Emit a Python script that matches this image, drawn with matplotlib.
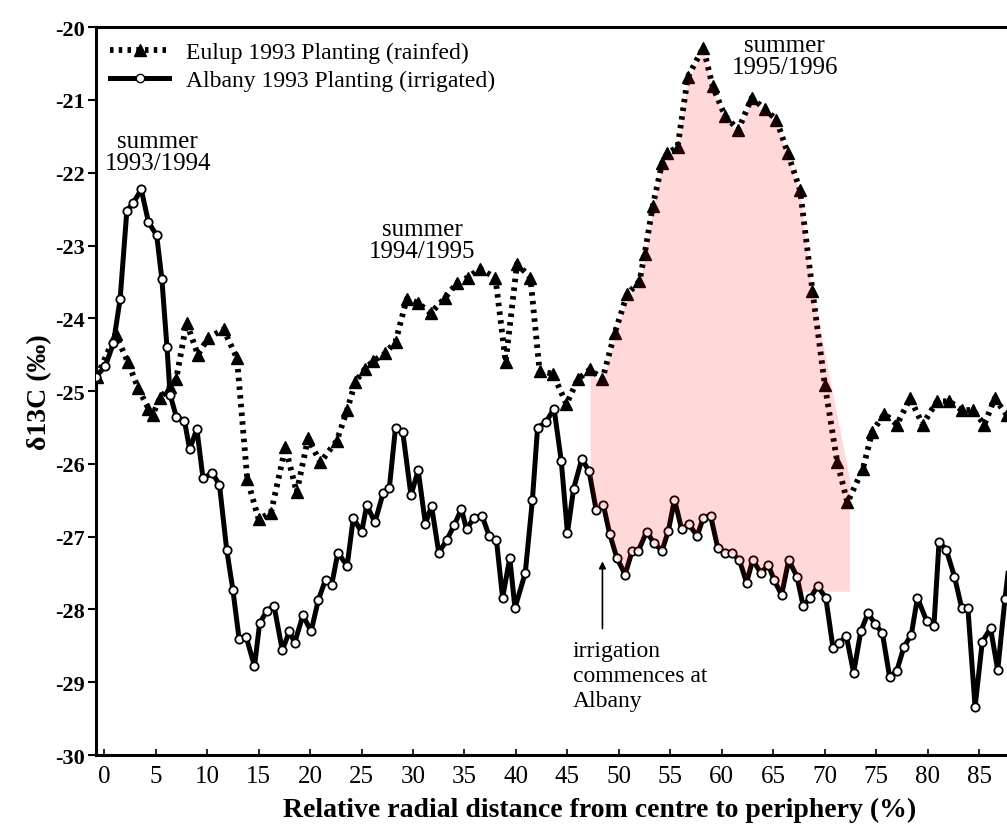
import numpy as np
import matplotlib
matplotlib.use("Agg")
import matplotlib.pyplot as plt
from matplotlib.lines import Line2D

# Albany 1993 planting (irrigated) - solid line, open circles
albany_x = [-0.8, 0.1, 0.9, 1.55, 2.2, 2.8, 3.6, 4.3, 5.1, 5.6, 6.1, 6.4, 7.0, 7.8, 8.3,
            9.0, 9.6, 10.5, 11.2, 11.9, 12.5, 13.1, 13.8, 14.6, 15.1, 15.8, 16.5, 17.3,
            18.0, 18.5, 19.3, 20.1, 20.8, 21.5, 22.1, 22.7, 23.6, 24.2, 25.0, 25.5, 26.3,
            27.1, 27.7, 28.3, 29.0, 29.8, 30.5, 31.2, 31.8, 32.5, 33.3, 34.0, 34.7, 35.2,
            35.9, 36.7, 37.4, 38.1, 38.7, 39.4, 39.9, 40.9, 41.6, 42.1, 42.9, 43.7, 44.4,
            45.0, 45.6, 46.4, 47.1, 47.8, 48.5, 49.1, 49.8, 50.6, 51.3, 51.9, 52.7, 53.4,
            54.2, 54.8, 55.4, 56.1, 56.8, 57.6, 58.2, 58.9, 59.6, 60.3, 61.0, 61.7, 62.4,
            63.0, 63.8, 64.5, 65.1, 65.8, 66.5, 67.3, 67.9, 68.6, 69.3, 70.1, 70.8, 71.4,
            72.1, 72.8, 73.5, 74.2, 74.9, 75.6, 76.3, 77.0, 77.7, 78.4, 79.0, 79.9, 80.6,
            81.1, 81.8, 82.6, 83.3, 83.9, 84.6, 85.3, 86.1, 86.8, 87.5, 88.3]
albany_y = [-24.8, -24.66, -24.34, -23.73, -22.52, -22.42, -22.23, -22.68, -22.86, -23.46,
            -24.4, -25.05, -25.35, -25.41, -25.8, -25.52, -26.2, -26.12, -26.29, -27.18,
            -27.73, -28.4, -28.38, -28.78, -28.19, -28.02, -27.95, -28.56, -28.3, -28.46,
            -28.08, -28.3, -27.87, -27.59, -27.66, -27.22, -27.4, -26.74, -26.94, -26.57,
            -26.8, -26.4, -26.33, -25.5, -25.56, -26.43, -26.09, -26.82, -26.58, -27.22,
            -27.04, -26.84, -26.62, -26.9, -26.74, -26.71, -26.99, -27.04, -27.84, -27.29,
            -27.98, -27.5, -26.49, -25.5, -25.43, -25.24, -25.96, -26.95, -26.34, -25.93,
            -26.1, -26.64, -26.57, -26.96, -27.29, -27.52, -27.19, -27.19, -26.93, -27.09,
            -27.19, -26.92, -26.49, -26.9, -26.83, -26.99, -26.74, -26.71, -27.15, -27.22,
            -27.23, -27.32, -27.63, -27.32, -27.5, -27.39, -27.6, -27.8, -27.32, -27.55,
            -27.95, -27.84, -27.68, -27.84, -28.53, -28.46, -28.37, -28.87, -28.3, -28.05,
            -28.2, -28.33, -28.93, -28.84, -28.51, -28.35, -27.84, -28.16, -28.23, -27.07,
            -27.18, -27.55, -27.98, -27.98, -29.34, -28.44, -28.26, -28.83, -27.86, -26.9]

# Eulup 1993 planting (rainfed) - dotted line, filled triangles
eulup_x = [-0.7, 1.1, 2.3, 3.3, 4.3, 4.7, 5.4, 6.4, 7.0, 8.0, 9.1, 10.1, 11.6, 12.9, 13.9,
           15.0, 16.2, 17.6, 18.7, 19.8, 21.0, 22.6, 23.6, 24.4, 25.3, 26.1, 27.3, 28.3,
           29.4, 30.5, 31.7, 33.1, 34.3, 35.3, 36.5, 38.0, 39.0, 40.1, 41.4, 42.3, 43.6,
           44.9, 46.0, 47.2, 48.4, 49.6, 50.8, 52.0, 52.5, 53.3, 54.2, 54.7, 55.7, 56.7,
           58.2, 59.1, 60.3, 61.6, 62.9, 64.2, 65.3, 66.4, 67.6, 68.8, 70.0, 71.2, 72.2,
           73.7, 74.6, 75.8, 77.0, 78.3, 79.5, 80.9, 82.1, 83.3, 84.4, 85.5, 86.5, 87.7]
eulup_y = [-24.8, -24.22, -24.6, -24.96, -25.24, -25.33, -25.1, -24.94, -24.83, -24.06,
           -24.5, -24.27, -24.15, -24.55, -26.21, -26.76, -26.67, -25.77, -26.39, -25.65,
           -25.98, -25.68, -25.26, -24.87, -24.7, -24.59, -24.48, -24.32, -23.73, -23.79,
           -23.93, -23.72, -23.51, -23.44, -23.32, -23.44, -24.6, -23.25, -23.44, -24.73,
           -24.76, -25.18, -24.84, -24.7, -24.84, -24.2, -23.67, -23.49, -23.12, -22.45,
           -21.87, -21.73, -21.65, -20.68, -20.28, -20.81, -21.22, -21.41, -20.97, -21.13,
           -21.27, -21.73, -22.24, -23.62, -24.91, -25.97, -26.53, -26.07, -25.56, -25.31,
           -25.46, -25.1, -25.46, -25.14, -25.14, -25.26, -25.26, -25.46, -25.1, -25.33]

x_ticks = list(range(0, 90, 5))
y_ticks = list(range(-30, -19))

# highlighted 1995/1996 summer band (hand drawn in the original)
band_start, band_end = 47.2, 72.4
band_shoulder = 68.8        # where the band leaves the Eulup curve on the right
band_right_top = -26.2
band_floor = -27.75

serif = ["Liberation Serif", "DejaVu Serif"]
plt.rcParams["font.family"] = serif

fig = plt.figure(figsize=(10.07, 8.29), dpi=100)
ax = fig.add_axes([0.0953, 0.088, 0.9047, 0.878])

dotted = (0, (0.6, 0.9))
ax.plot(eulup_x, eulup_y, linestyle=dotted, color="black", linewidth=4.2,
        marker="^", markersize=8, markerfacecolor="black", markeredgecolor="black",
        dash_capstyle="butt", zorder=3)
ax.plot(albany_x, albany_y, linestyle="-", color="black", linewidth=3.6,
        marker="o", markersize=6, markerfacecolor="white", markeredgecolor="black",
        markeredgewidth=1.3, zorder=4)

# pink band between the two series
grid = np.linspace(band_start, band_end, 300)
top = np.interp(grid, eulup_x, eulup_y) - 0.05
shoulder_y = np.interp(band_shoulder, eulup_x, eulup_y)
right_edge = np.interp(grid, [band_shoulder, band_end], [shoulder_y, band_right_top],
                       left=-40)
top = np.maximum(top, right_edge)
bottom = np.maximum(np.interp(grid, albany_x, albany_y), band_floor)
ax.fill_between(grid, bottom, top, color="red", alpha=0.15, linewidth=0, zorder=5)

ax.set_xlim(-0.8, 87.7)
ax.set_ylim(-30, -20)
ax.set_xticks(x_ticks)
ax.set_yticks(y_ticks)
ax.set_yticklabels([str(v) for v in y_ticks], fontsize=16, fontweight="bold")
ax.set_xticklabels([str(v) for v in x_ticks], fontsize=18)
ax.tick_params(axis="y", direction="out", length=6, width=1.5, pad=2)
ax.tick_params(axis="x", direction="in", length=4, width=1.2, pad=7)
for side in ["left", "bottom", "top"]:
    ax.spines[side].set_linewidth(2.2)
ax.spines["right"].set_visible(False)

ax.set_xlabel("Relative radial distance from centre to periphery (%)",
              fontsize=20, fontweight="bold")
# the original axis runs past the right edge of the picture, so its label sits off-centre
ax.xaxis.set_label_coords(0.553, -0.058)
ax.set_ylabel("δ13C (‰)", fontsize=20, fontweight="bold", labelpad=2)

# annotations
ax.text(5.2, -21.72, "summer\n1993/1994", ha="center", va="center", fontsize=18,
        linespacing=1.0)
ax.text(30.9, -22.92, "summer\n1994/1995", ha="center", va="center", fontsize=18,
        linespacing=1.0)
ax.text(66.1, -20.4, "summer\n1995/1996", ha="center", va="center", fontsize=18,
        linespacing=1.0)
ax.text(45.5, -28.42, "irrigation\ncommences at\nAlbany", ha="left", va="top",
        fontsize=17, linespacing=1.25)
ax.annotate("", xy=(48.4, -27.3), xytext=(48.4, -28.3),
            arrowprops=dict(arrowstyle="-|>", color="black", lw=1.2,
                            mutation_scale=10))

handles = [
    Line2D([], [], linestyle=dotted, color="black", linewidth=4.2, marker="^",
           markersize=8, markerfacecolor="black"),
    Line2D([], [], linestyle="-", color="black", linewidth=3.6, marker="o", markersize=6,
           markerfacecolor="white", markeredgecolor="black"),
]
ax.legend(handles, ["Eulup 1993 Planting (rainfed)", "Albany 1993 Planting (irrigated)"],
          loc="upper left", bbox_to_anchor=(0.0, 1.0), frameon=False, fontsize=17,
          handlelength=2.5, handletextpad=0.7, labelspacing=0.3, borderaxespad=0.2,
          borderpad=0.4)

fig.savefig("out.png", dpi=100)
